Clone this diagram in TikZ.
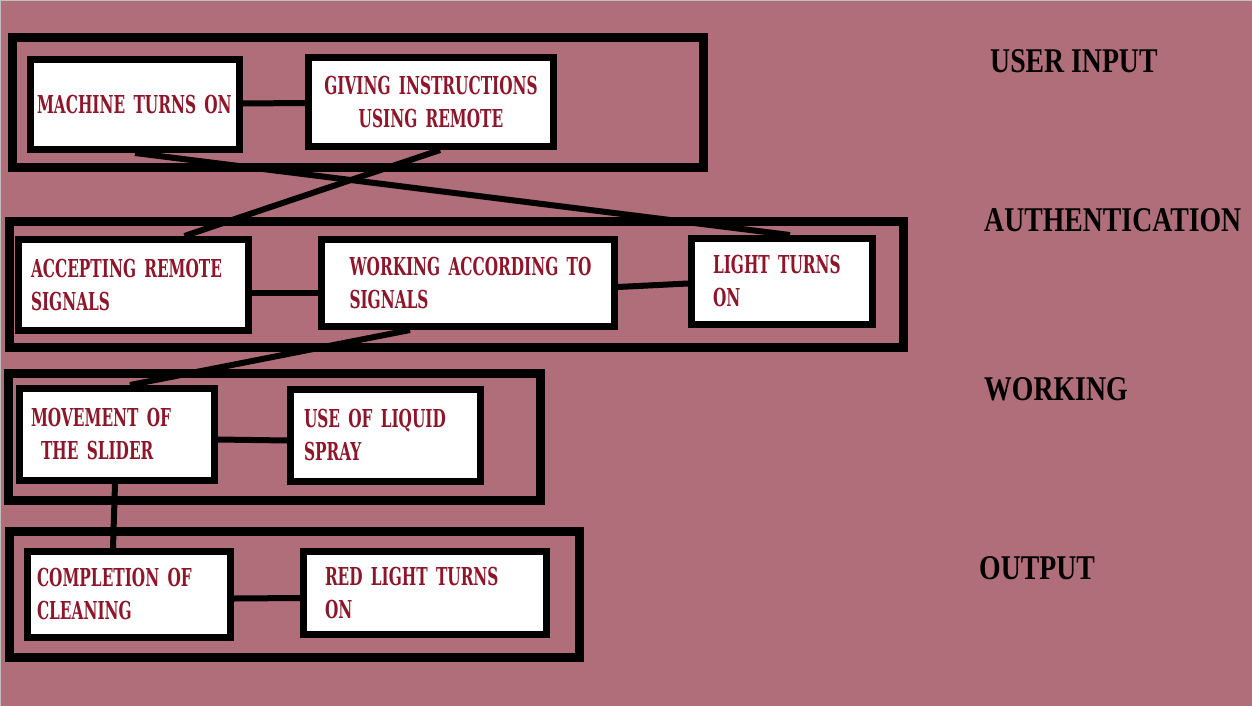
\documentclass[tikz,border=0pt]{standalone}
\usepackage{fontspec}
\usetikzlibrary{calc}
\newfontfamily\boxfont{DejaVu Serif}[FakeStretch=0.62]
\newfontfamily\stagefont{Liberation Serif}[FakeStretch=0.8]
\definecolor{backpink}{RGB}{176,110,122}
\definecolor{textred}{RGB}{142,22,42}
\tikzset{
  box/.style={draw=black, line width=7pt, fill=white, inner ysep=0pt,
    align=left, text=textred, font=\boxfont\bfseries\fontsize{24.7}{33}\selectfont},
  frame/.style={draw=black, line width=9pt},
  link/.style={draw=black, line width=6pt},
  stage/.style={anchor=west, inner sep=0pt, text=black,
    font=\stagefont\bfseries\fontsize{34.7}{40}\selectfont}
}
\begin{document}
\begin{tikzpicture}[x=1pt,y=-1pt]
\useasboundingbox (0,0) rectangle (1252,706);
\fill[backpink] (0,0) rectangle (1252,706);
\draw[gray!50, line width=2pt] (0,706) -- (0,0) -- (1252,0);

% outer frames
\draw[frame] (12.5,37.5) rectangle (703.5,167.5);
\draw[frame] (9.5,221.5) rectangle (903.5,347.5);
\draw[frame] (8.5,373.5) rectangle (540.5,500.5);
\draw[frame] (9.5,531.5) rectangle (579.5,657.5);

% user input
\node[box, minimum width=209, minimum height=90, inner xsep=6.5, text width=196] (machine) at (135,104.5) {MACHINE TURNS ON};
\node[box, minimum width=245, minimum height=89, inner xsep=10, text width=225, align=center] (remote) at (431,102) {GIVING INSTRUCTIONS\\USING REMOTE};

% authentication
\node[box, minimum width=230, minimum height=91, inner xsep=12.5, text width=205] (accept) at (133.5,285) {ACCEPTING REMOTE\\SIGNALS};
\node[box, minimum width=293, minimum height=87, inner xsep=14, text width=265] (signals) at (468,283) {\hspace*{14pt}WORKING ACCORDING TO\\\hspace*{14pt}SIGNALS};
\node[box, minimum width=181, minimum height=86, inner xsep=21.5, text width=138] (light) at (782,281.5) {LIGHT TURNS\\ON};

% working
\node[box, minimum width=195, minimum height=92, inner xsep=11.5, text width=172] (slider) at (117,434.5) {MOVEMENT OF\\\hspace*{10pt}THE SLIDER};
\node[box, minimum width=190, minimum height=92, inner xsep=13.5, text width=163] (spray) at (385.5,435.5) {USE OF LIQUID\\SPRAY};

% output
\node[box, minimum width=203, minimum height=86, inner xsep=9.5, text width=184] (clean) at (129,594.5) {COMPLETION OF\\CLEANING};
\node[box, minimum width=243, minimum height=83, inner xsep=21.5, text width=200] (redlight) at (425,593) {RED LIGHT TURNS\\ON};

% connectors
\draw[link] ([yshift=1]machine.east) -- ([yshift=-1]remote.west);
\draw[link] (machine.south) -- ([xshift=8]light.north);
\draw[link] ([xshift=9]remote.south) -- ([xshift=51]accept.north);
\draw[link] ([yshift=-8]accept.east) -- ([yshift=-10]signals.west);
\draw[link] ([yshift=-4]signals.east) -- ([yshift=-2]light.west);
\draw[link] ([xshift=-58]signals.south) -- ([xshift=13]slider.north);
\draw[link] ([yshift=-5]slider.east) -- ([yshift=-5]spray.west);
\draw[link] ([xshift=-2]slider.south) -- ([xshift=-16]clean.north);
\draw[link] ([yshift=-4]clean.east) -- ([yshift=-5]redlight.west);

% stage labels
\node[stage] (input) at (990,61) {USER INPUT};
\node[stage] (auth) at (984,220) {AUTHENTICATION};
\node[stage] (work) at (984,389) {WORKING};
\node[stage] (out) at (979,568) {OUTPUT};
\end{tikzpicture}
\end{document}
